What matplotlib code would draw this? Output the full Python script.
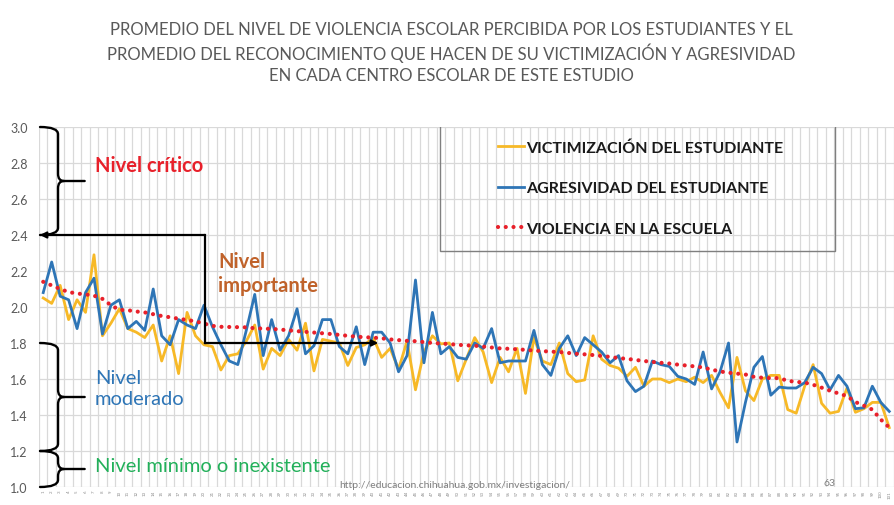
import numpy as np
import matplotlib
matplotlib.use("Agg")
from matplotlib import pyplot as plt
from matplotlib.path import Path
from matplotlib.patches import PathPatch, Rectangle

# promedio por centro escolar (101 escuelas)
escuelas = list(range(1, 102))

victimizacion = [
    2.05, 2.02, 2.12, 1.93, 2.04, 1.97, 2.29, 1.84, 1.91, 1.99,
    1.88, 1.86, 1.83, 1.90, 1.70, 1.84, 1.63, 1.97, 1.84, 1.79,
    1.78, 1.65, 1.73, 1.74, 1.81, 1.90, 1.655, 1.77, 1.73, 1.82,
    1.76, 1.91, 1.645, 1.82, 1.81, 1.80, 1.675, 1.775, 1.79, 1.83,
    1.72, 1.77, 1.655, 1.81, 1.54, 1.75, 1.84, 1.795, 1.80, 1.59,
    1.71, 1.83, 1.75, 1.58, 1.72, 1.64, 1.77, 1.52, 1.83, 1.70,
    1.68, 1.80, 1.63, 1.585, 1.595, 1.84, 1.71, 1.675, 1.66, 1.615,
    1.665, 1.56, 1.60, 1.60, 1.58, 1.60, 1.585, 1.61, 1.58, 1.62,
    1.525, 1.44, 1.72, 1.535, 1.48, 1.60, 1.62, 1.62, 1.43, 1.41,
    1.56, 1.68, 1.465, 1.41, 1.42, 1.55, 1.415, 1.435, 1.47, 1.47,
    1.33,
]

agresividad = [
    2.08, 2.25, 2.06, 2.04, 1.88, 2.08, 2.16, 1.85, 2.01, 2.04,
    1.88, 1.92, 1.87, 2.10, 1.84, 1.79, 1.93, 1.90, 1.88, 2.01,
    1.89, 1.79, 1.70, 1.68, 1.87, 2.07, 1.73, 1.93, 1.76, 1.84,
    1.99, 1.74, 1.785, 1.93, 1.93, 1.78, 1.74, 1.89, 1.68, 1.86,
    1.86, 1.80, 1.64, 1.73, 2.15, 1.69, 1.97, 1.74, 1.78, 1.72,
    1.71, 1.80, 1.77, 1.88, 1.69, 1.70, 1.70, 1.70, 1.87, 1.68,
    1.62, 1.77, 1.84, 1.73, 1.83, 1.79, 1.75, 1.69, 1.73, 1.59,
    1.53, 1.56, 1.70, 1.68, 1.67, 1.615, 1.60, 1.57, 1.75, 1.545,
    1.64, 1.80, 1.25, 1.47, 1.665, 1.725, 1.51, 1.555, 1.55, 1.55,
    1.58, 1.665, 1.63, 1.54, 1.62, 1.56, 1.435, 1.44, 1.56, 1.47,
    1.42,
]

violencia = [
    2.14, 2.12, 2.10, 2.083, 2.075, 2.07, 2.063, 2.045, 2.01, 1.984,
    1.982, 1.975, 1.97, 1.96, 1.95, 1.943, 1.935, 1.928, 1.92, 1.908,
    1.895, 1.89, 1.889, 1.888, 1.887, 1.882, 1.88, 1.878, 1.875, 1.87,
    1.866, 1.862, 1.858, 1.854, 1.85, 1.845, 1.84, 1.835, 1.832, 1.83,
    1.826, 1.82, 1.816, 1.812, 1.81, 1.805, 1.80, 1.797, 1.794, 1.79,
    1.787, 1.785, 1.78, 1.775, 1.77, 1.768, 1.765, 1.762, 1.758, 1.755,
    1.752, 1.75, 1.745, 1.74, 1.737, 1.733, 1.728, 1.723, 1.716, 1.712,
    1.706, 1.70, 1.695, 1.69, 1.686, 1.68, 1.675, 1.67, 1.664, 1.652,
    1.642, 1.635, 1.63, 1.625, 1.612, 1.607, 1.605, 1.605, 1.59, 1.584,
    1.58, 1.568, 1.552, 1.535, 1.52, 1.505, 1.472, 1.452, 1.43, 1.375,
    1.33,
]

y_ticks = [1.0, 1.2, 1.4, 1.6, 1.8, 2.0, 2.2, 2.4, 2.6, 2.8, 3.0]

titulo = ("PROMEDIO DEL NIVEL DE VIOLENCIA ESCOLAR PERCIBIDA POR LOS ESTUDIANTES Y EL\n"
          "PROMEDIO DEL RECONOCIMIENTO QUE HACEN DE SU VICTIMIZACIÓN Y AGRESIVIDAD\n"
          "EN CADA CENTRO ESCOLAR DE ESTE ESTUDIO")

AMARILLO = "#F7B927"
AZUL = "#2E75B6"
ROJO = "#E8202A"
GRIS = "#595959"

plt.rcParams["font.family"] = ["Lato", "DejaVu Sans"]

W, H = 894, 506
fig = plt.figure(figsize=(W / 100, H / 100), dpi=100)
ax = fig.add_axes([39 / W, 1 - 488 / H, 854.5 / W, 360 / H])

ax.plot(escuelas, victimizacion, color=AMARILLO, lw=2.0,
        label="VICTIMIZACIÓN DEL ESTUDIANTE", zorder=3)
ax.plot(escuelas, agresividad, color=AZUL, lw=2.0,
        label="AGRESIVIDAD DEL ESTUDIANTE", zorder=4)
ax.plot(escuelas, violencia, color=ROJO, lw=3.0, linestyle=(0, (0.01, 1.85)),
        dash_capstyle="round", label="VIOLENCIA EN LA ESCUELA", zorder=5)

ax.set_xlim(0.5, 101.5)
ax.set_ylim(1.0, 3.0)
ax.set_yticks(y_ticks)
ax.set_yticklabels([f"{v:.1f}" for v in y_ticks])
ax.set_xticks(escuelas)
ax.set_xticklabels([str(e) for e in escuelas], rotation=90, fontsize=3.2, color="#8c8c8c")
ax.set_xticks(np.arange(0.5, 102, 1), minor=True)
ax.tick_params(axis="y", length=0, pad=8, labelsize=9, labelcolor=GRIS)
ax.tick_params(axis="x", which="both", length=0, pad=2)
ax.grid(axis="y", which="major", color="#d9d9d9", lw=0.9)
ax.grid(axis="x", which="minor", color="#d9d9d9", lw=0.9)
for s in ax.spines.values():
    s.set_visible(False)

# leyenda con marco transparente
leg = ax.legend(loc="upper left", bbox_to_anchor=((484 - 39) / 854.5, (488 - 127) / 360),
                frameon=False, handlelength=1.6, handletextpad=0.12,
                labelspacing=1.65, prop={"weight": "bold", "size": 11.5})
for t in leg.get_texts():
    t.set_color("#1a1a1a")
ax.add_patch(Rectangle(((440 - 39) / 854.5, (488 - 252) / 360), 395 / 854.5, 128 / 360,
                       transform=ax.transAxes, fill=False, ec="#7f7f7f", lw=1.0, zorder=6))


def llave(y_top, y_bot, x_end=0.62, x_lomo=2.75, x_punta=5.9, dy=0.04, dx=0.7):
    ym = (y_top + y_bot) / 2
    verts = [(x_end, y_top), (x_lomo, y_top), (x_lomo, y_top - dy),
             (x_lomo, ym + dy),
             (x_lomo, ym), (x_lomo + dx, ym),
             (x_punta, ym),
             (x_lomo + dx, ym),
             (x_lomo, ym), (x_lomo, ym - dy),
             (x_lomo, y_bot + dy),
             (x_lomo, y_bot), (x_end, y_bot)]
    codes = [Path.MOVETO, Path.CURVE3, Path.CURVE3,
             Path.LINETO,
             Path.CURVE3, Path.CURVE3,
             Path.LINETO,
             Path.MOVETO,
             Path.CURVE3, Path.CURVE3,
             Path.LINETO,
             Path.CURVE3, Path.CURVE3]
    ax.add_patch(PathPatch(Path(verts, codes), fill=False, ec="black", lw=1.7,
                           capstyle="round", clip_on=False, zorder=7))


llave(3.0, 2.4)
llave(1.8, 1.2)
llave(1.2, 1.0)

# flechas del nivel importante
ax.plot([20.1, 20.1], [2.4, 1.8], color="black", lw=1.6, zorder=7)
ax.annotate("", xy=(0.6, 2.4), xytext=(20.1, 2.4), annotation_clip=False,
            arrowprops=dict(arrowstyle="-|>", color="black", lw=1.6,
                            shrinkA=0, shrinkB=0, mutation_scale=9), zorder=7)
ax.annotate("", xy=(40.6, 1.8), xytext=(20.1, 1.8),
            arrowprops=dict(arrowstyle="-|>", color="black", lw=1.6,
                            shrinkA=0, shrinkB=0, mutation_scale=9), zorder=7)

ax.text(7.1, 2.79, "Nivel crítico", color=ROJO, fontsize=14.5, weight="bold",
        va="center", zorder=8)
ax.text(21.7, 2.188, "Nivel\nimportante", color="#C0622A", fontsize=14.5, weight="bold",
        va="center", linespacing=1.25, zorder=8)
ax.text(7.1, 1.55, "Nivel\nmoderado", color=AZUL, fontsize=14.5,
        va="center", linespacing=1.3, zorder=8)
ax.text(7.1, 1.122, "Nivel mínimo o inexistente", color="#22B05A", fontsize=14.5,
        va="center", zorder=8)

fig.text(451 / W, 1 - 53 / H, titulo, ha="center", va="center", fontsize=12,
         color=GRIS, linespacing=1.35)
fig.text(455 / W, 1 - 486 / H, "http://educacion.chihuahua.gob.mx/investigacion/",
         ha="center", va="center", fontsize=7.5, color="#7f7f7f")
fig.text(829 / W, 1 - 484 / H, "63", ha="center", va="center", fontsize=7.5, color="#7f7f7f")

fig.savefig("out.png", dpi=100)
